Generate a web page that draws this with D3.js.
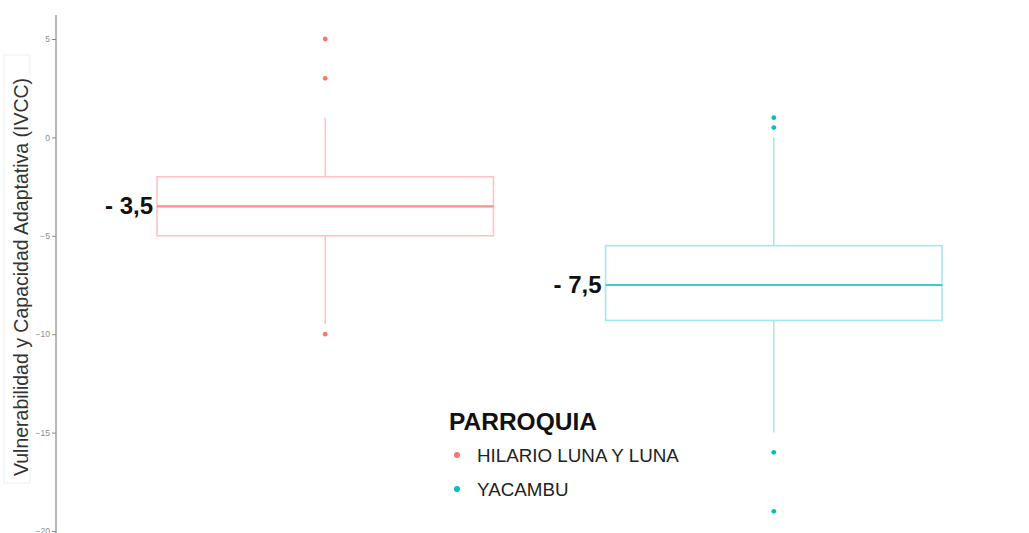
<!DOCTYPE html>
<html>
<head>
<meta charset="utf-8">
<script src="https://cdn.jsdelivr.net/npm/d3@7"></script>
<style>
  html, body { margin: 0; padding: 0; background: #fff; }
  svg { display: block; font-family: "Liberation Sans", Arial, sans-serif; }
</style>
</head>
<body>
<svg id="chart" width="1029" height="533"></svg>
<script>
// ---- data ----
const categories = ["HILARIO LUNA Y LUNA", "YACAMBU"];
const whiskerLow = [-9.5, -15];
const q1 = [-5, -9.3];
const median = [-3.5, -7.5];
const q3 = [-2, -5.5];
const whiskerHigh = [1, 0];
const outliers = [[5, 3, -10], [1, 0.5, -16, -19]];
const medianLabels = ["- 3,5", "- 7,5"];
const yTicks = [5, 0, -5, -10, -15, -20];
const colors = ["#F8766D", "#00BFC4"];
const boxColors = ["#FFC4C2", "#A3E9EB"];
const medColors = ["#F8908A", "#3CCBCE"];
const yTitle = "Vulnerabilidad y Capacidad Adaptativa (IVCC)";
const legendTitle = "PARROQUIA";

const svg = d3.select("#chart");

const y = d3.scaleLinear().domain([-20, 5]).range([531, 39]);
const x = d3.scaleBand().domain(categories).range([157, 942]).paddingInner(0.25).paddingOuter(0);

// y axis
const axis = d3.axisLeft(y).tickValues(yTicks).tickSize(4).tickPadding(2).tickFormat(d3.format("d"));
const gA = svg.append("g").attr("transform", "translate(56,0)").call(axis);
gA.select(".domain").remove();
gA.append("line").attr("x1", 0).attr("x2", 0).attr("y1", 15).attr("y2", 533)
  .attr("stroke", "#8a8a8a").attr("stroke-width", 1.2);
gA.selectAll(".tick line").attr("stroke", "#8a8a8a");
gA.selectAll(".tick text").attr("fill", "#8a8a8a").style("font-size", "8.5px")
  .style("font-family", "'Liberation Sans', Arial, sans-serif");

// y title with faint box
svg.append("rect").attr("x", 4).attr("y", 55).attr("width", 26).attr("height", 428)
  .attr("fill", "none").attr("stroke", "#f0f0f0");
svg.append("text")
  .attr("transform", "translate(28,277) rotate(-90)")
  .attr("text-anchor", "middle")
  .attr("fill", "#333")
  .style("font-size", "19.5px")
  .text(yTitle);

// boxes
categories.forEach((c, i) => {
  const g = svg.append("g");
  const x0 = x(c), bw = x.bandwidth(), cx = x0 + bw / 2;
  g.append("line").attr("x1", cx).attr("x2", cx).attr("y1", y(whiskerHigh[i])).attr("y2", y(q3[i]))
    .attr("stroke", boxColors[i]).attr("stroke-width", 1.5);
  g.append("line").attr("x1", cx).attr("x2", cx).attr("y1", y(q1[i])).attr("y2", y(whiskerLow[i]))
    .attr("stroke", boxColors[i]).attr("stroke-width", 1.5);
  g.append("rect").attr("x", x0).attr("y", y(q3[i])).attr("width", bw).attr("height", y(q1[i]) - y(q3[i]))
    .attr("fill", "#fff").attr("stroke", boxColors[i]).attr("stroke-width", 1.6);
  g.append("line").attr("x1", x0).attr("x2", x0 + bw).attr("y1", y(median[i])).attr("y2", y(median[i]))
    .attr("stroke", medColors[i]).attr("stroke-width", 2.2);
  g.selectAll("circle").data(outliers[i]).join("circle")
    .attr("cx", cx).attr("cy", d => y(d)).attr("r", 2.4).attr("fill", colors[i]);
  g.append("text").attr("x", x0 - 4).attr("y", y(median[i]) + 8)
    .attr("text-anchor", "end").attr("font-weight", "bold").attr("fill", "#111")
    .style("font-size", "24px").text(medianLabels[i]);
});

// legend
const lg = svg.append("g").attr("transform", "translate(449,0)");
lg.append("text").attr("x", 0).attr("y", 430).attr("font-weight", "bold").attr("fill", "#111")
  .style("font-size", "24.5px").text(legendTitle);
categories.forEach((c, i) => {
  const yy = 455 + i * 34;
  lg.append("circle").attr("cx", 8).attr("cy", yy).attr("r", 3).attr("fill", colors[i]);
  lg.append("text").attr("x", 28).attr("y", yy + 7).attr("fill", "#222")
    .style("font-size", "18.8px").text(c);
});
</script>
</body>
</html>
